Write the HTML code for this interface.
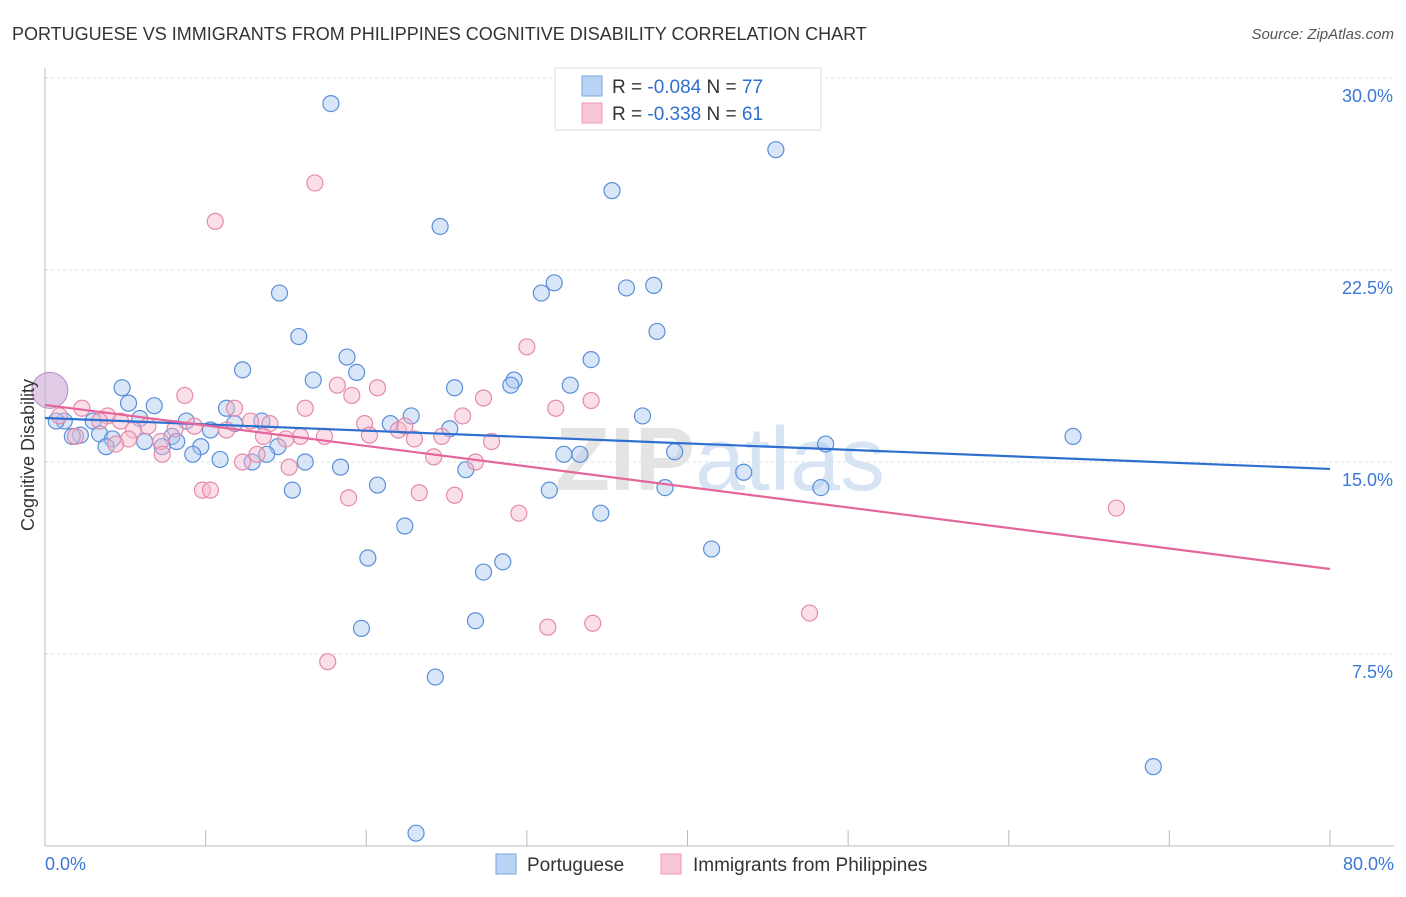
<!DOCTYPE html>
<html><head><meta charset="utf-8"><style>
body{margin:0;background:#fff;font-family:"Liberation Sans",sans-serif;}
svg text{font-family:"Liberation Sans",sans-serif;}
</style></head><body>
<svg width="1406" height="892" viewBox="0 0 1406 892">
<text x="12" y="40" font-size="18" fill="#333">PORTUGUESE VS IMMIGRANTS FROM PHILIPPINES COGNITIVE DISABILITY CORRELATION CHART</text>
<text x="1394" y="39" font-size="15" fill="#555" text-anchor="end" font-style="italic">Source: ZipAtlas.com</text>
<g id="grid"></g>
<text x="720" y="490" font-size="90" fill="#e4e4e4" text-anchor="middle" font-weight="bold">ZIP<tspan font-weight="normal" fill="#d6e4f4">atlas</tspan></text>
<g id="marks"></g>
<text x="34" y="455" font-size="18" fill="#333" text-anchor="middle" transform="rotate(-90 34 455)">Cognitive Disability</text>
<g>
<rect x="555" y="68" width="266" height="62" fill="#fff" stroke="#ddd"/>
<rect x="582" y="76" width="20" height="20" fill="#b9d3f5" stroke="#7aa6e0"/>
<rect x="582" y="103" width="20" height="20" fill="#f9c6d6" stroke="#e99ab5"/>
<text x="612" y="93" font-size="19" fill="#333">R = <tspan fill="#2f6fd0">-0.084</tspan>   N = <tspan fill="#2f6fd0">77</tspan></text>
<text x="612" y="120" font-size="19" fill="#333">R =  <tspan fill="#2f6fd0">-0.338</tspan>   N =  <tspan fill="#2f6fd0">61</tspan></text>
</g>
<g>
<rect x="496" y="854" width="20" height="20" fill="#b9d3f5" stroke="#7aa6e0"/>
<text x="527" y="871" font-size="19" fill="#333">Portuguese</text>
<rect x="661" y="854" width="20" height="20" fill="#f9c6d6" stroke="#e99ab5"/>
<text x="693" y="871" font-size="19" fill="#333">Immigrants from Philippines</text>
</g>
</svg>
<script>
const xTickLabels=["0.0%","80.0%"];
const yTicks=[7.5,15,22.5,30];
const yTickLabels=["7.5%","15.0%","22.5%","30.0%"];
const blueX=[17.8,45.5,35.3,24.6,31.7,30.9,36.2,37.9,14.6,38.1,15.8,18.8,34.0,12.3,19.4,16.7,29.2,29.0,32.7,25.5,4.8,5.2,6.8,11.3,22.8,37.2,13.5,11.8,8.8,1.2,0.7,3.0,5.9,21.5,25.2,10.3,3.4,2.2,1.7,4.2,7.9,8.2,6.2,3.8,9.7,7.3,14.5,48.6,64.0,39.2,32.3,33.3,13.8,9.2,10.9,12.9,16.2,18.4,26.2,43.5,20.7,31.4,38.6,48.3,15.4,34.6,22.4,41.5,20.1,28.5,27.3,26.8,19.7,24.3,69.0,23.1];
const blueY=[29.0,27.2,25.6,24.2,22.0,21.6,21.8,21.9,21.6,20.1,19.9,19.1,19.0,18.6,18.5,18.2,18.2,18.0,18.0,17.9,17.9,17.3,17.2,17.1,16.8,16.8,16.6,16.5,16.6,16.6,16.6,16.6,16.7,16.5,16.3,16.25,16.1,16.05,16.0,15.9,16.0,15.8,15.8,15.6,15.6,15.6,15.6,15.7,16.0,15.4,15.3,15.3,15.3,15.3,15.1,15.0,15.0,14.8,14.7,14.6,14.1,13.9,14.0,14.0,13.9,13.0,12.5,11.6,11.25,11.1,10.7,8.8,8.5,6.6,3.1,0.5];
const pinkX=[16.8,10.6,30.0,8.7,18.2,20.7,19.1,27.3,34.0,31.8,26.0,16.2,11.8,2.3,3.9,4.7,6.4,5.5,8.1,12.8,14.0,19.9,22.0,22.4,11.3,9.3,15.9,17.4,20.2,23.0,24.7,27.8,7.2,1.9,5.2,4.4,13.6,15.0,7.3,13.2,12.3,15.2,24.2,26.8,9.8,10.3,18.9,23.3,25.5,29.5,66.7,47.6,31.3,34.1,17.6,0.9,3.4];
const pinkY=[25.9,24.4,19.5,17.6,18.0,17.9,17.6,17.5,17.4,17.1,16.8,17.1,17.1,17.1,16.8,16.6,16.4,16.25,16.3,16.6,16.5,16.5,16.25,16.4,16.25,16.4,16.0,16.0,16.05,15.9,16.0,15.8,15.8,16.0,15.9,15.7,16.0,15.9,15.3,15.3,15.0,14.8,15.2,15.0,13.9,13.9,13.6,13.8,13.7,13.0,13.2,9.1,8.55,8.7,7.2,16.8,16.6];
const bigPoint=[0.3,17.8];
const blueTrend=[16.72,14.73];
const pinkTrend=[17.23,10.82];
const NS="http://www.w3.org/2000/svg";
const sx=v=>45+v/80*1285, sy=v=>846-v*25.6;
function mk(t,a,p){const e=document.createElementNS(NS,t);for(const k in a)e.setAttribute(k,a[k]);p.appendChild(e);return e;}
const grid=document.getElementById('grid'), marks=document.getElementById('marks');
yTicks.forEach((t,i)=>{
 const l=mk('line',{x1:45,x2:1394,y1:sy(t),y2:sy(t),stroke:'#ddd','stroke-dasharray':'3,3'},grid);
 
 
 const tx=mk('text',{x:1393,y:sy(t)+24,'font-size':18,fill:'#3b78d8','text-anchor':'end'},grid);
 tx.textContent=yTickLabels[i];
 
 
});
const ax=mk('line',{x1:45,x2:45,y1:68,y2:846,stroke:'#bbb'},grid);


const bx=mk('line',{x1:45,x2:1394,y1:846,y2:846,stroke:'#bbb'},grid);


for(let v=10;v<=80;v+=10){const tk=mk('line',{x1:sx(v),x2:sx(v),y1:830,y2:846,stroke:'#bbb'},grid);
 
 }
[[0,'start',45],[80,'end',1394]].forEach((d,i)=>{const t=mk('text',{x:d[2],y:870,'font-size':18,fill:'#3b78d8','text-anchor':d[1]},grid);t.textContent=xTickLabels[i];
 
 });
function pts(X,Y,fill,stroke,name){X.forEach((x,i)=>{const c=mk('circle',{cx:sx(x),cy:sy(Y[i]),r:8,fill:fill,'fill-opacity':0.45,stroke:stroke,'stroke-width':1.2},marks);
 
 });}
pts(blueX,blueY,'#a9c8f0','#5b8fd8','portuguese-point');
pts(pinkX,pinkY,'#f7b7cb','#e58aaa','philippines-point');
const bp=mk('circle',{cx:sx(bigPoint[0]),cy:sy(bigPoint[1]),r:18,fill:'#c9a9d6','fill-opacity':0.6,stroke:'#b48ac8'},marks);


const bl=mk('line',{x1:sx(0),y1:sy(blueTrend[0]),x2:sx(80),y2:sy(blueTrend[1]),stroke:'#2f6fd0','stroke-width':2.2},marks);


const pl=mk('line',{x1:sx(0),y1:sy(pinkTrend[0]),x2:sx(80),y2:sy(pinkTrend[1]),stroke:'#e4669a','stroke-width':2.2},marks);


</script>
</body></html>
